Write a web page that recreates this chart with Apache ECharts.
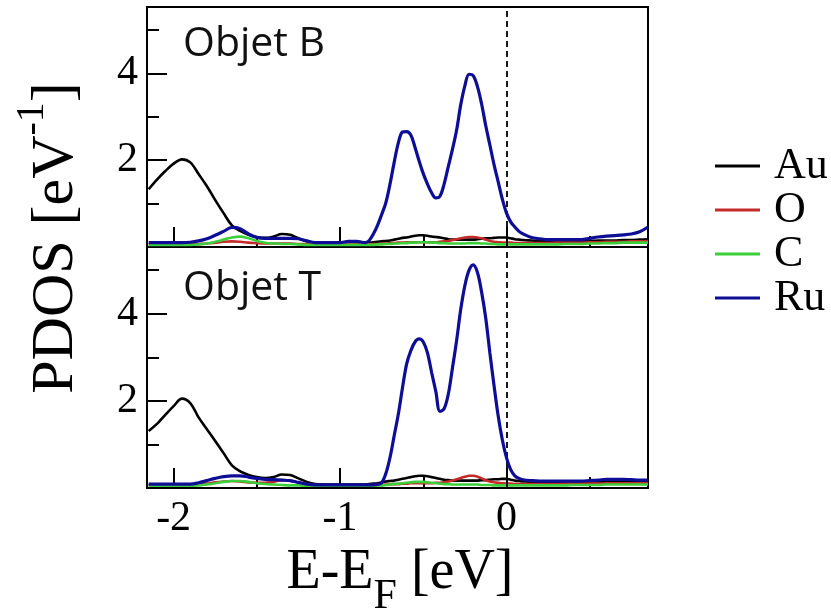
<!DOCTYPE html>
<html><head><meta charset="utf-8">
<script src="https://cdn.jsdelivr.net/npm/echarts@6/dist/echarts.min.js"></script>
<style>html,body{margin:0;padding:0;background:#fff}#c{width:831px;height:615px}</style>
</head><body><div id="c"></div>
<script>
// Energy grid (eV)
const E = [-2.15,-2.10,-2.05,-2.00,-1.95,-1.90,-1.85,-1.80,-1.75,-1.70,-1.65,-1.60,-1.55,-1.50,-1.45,-1.40,-1.35,-1.30,-1.25,-1.20,-1.15,-1.10,-1.05,-1.00,-0.95,-0.90,-0.85,
 -0.825,-0.80,-0.775,-0.75,-0.725,-0.70,-0.675,-0.65,-0.625,-0.60,-0.575,-0.55,-0.525,-0.50,-0.475,-0.45,-0.425,-0.40,-0.375,-0.35,-0.325,-0.30,-0.275,-0.25,-0.225,-0.20,-0.175,-0.15,-0.125,-0.10,-0.075,-0.05,-0.025,0.00,0.025,0.05,0.075,0.10,
 0.15,0.20,0.25,0.30,0.35,0.40,0.45,0.50,0.55,0.60,0.65,0.70,0.75,0.80,0.85];

// Objet B (upper panel)
const auB = [1.33,1.55,1.75,1.92,2.02,1.95,1.68,1.40,1.08,0.78,0.50,0.37,0.28,0.23,0.21,0.24,0.30,0.28,0.20,0.13,0.09,0.08,0.08,0.08,0.08,0.08,0.09,
 0.10,0.11,0.12,0.13,0.14,0.15,0.17,0.19,0.21,0.22,0.24,0.26,0.27,0.27,0.26,0.24,0.23,0.22,0.20,0.18,0.17,0.17,0.17,0.17,0.17,0.17,0.18,0.19,0.20,0.20,0.21,0.22,0.22,0.22,0.20,0.18,0.17,0.16,
 0.15,0.14,0.14,0.14,0.14,0.14,0.14,0.14,0.15,0.15,0.15,0.16,0.16,0.17,0.18];
const oB = [0.06,0.06,0.06,0.06,0.06,0.06,0.07,0.08,0.10,0.12,0.13,0.12,0.10,0.09,0.08,0.08,0.08,0.08,0.07,0.07,0.06,0.06,0.06,0.06,0.06,0.06,0.06,
 0.06,0.07,0.07,0.08,0.08,0.09,0.09,0.10,0.10,0.11,0.11,0.11,0.11,0.11,0.11,0.11,0.11,0.12,0.13,0.14,0.16,0.18,0.20,0.22,0.23,0.23,0.22,0.20,0.17,0.14,0.12,0.11,0.10,0.10,0.10,0.09,0.09,0.09,
 0.09,0.09,0.09,0.10,0.10,0.10,0.10,0.11,0.11,0.12,0.12,0.12,0.13,0.13,0.14];
const cB = [0.05,0.05,0.05,0.05,0.05,0.05,0.06,0.08,0.12,0.17,0.22,0.24,0.20,0.14,0.10,0.08,0.07,0.07,0.06,0.05,0.05,0.05,0.05,0.05,0.05,0.05,0.05,
 0.05,0.05,0.06,0.06,0.07,0.07,0.08,0.08,0.09,0.09,0.10,0.10,0.11,0.11,0.11,0.10,0.10,0.09,0.09,0.08,0.08,0.08,0.08,0.08,0.09,0.09,0.09,0.08,0.08,0.07,0.07,0.06,0.06,0.06,0.06,0.06,0.06,0.06,
 0.06,0.06,0.06,0.06,0.07,0.07,0.07,0.08,0.08,0.09,0.09,0.10,0.10,0.10,0.10];
const ruB = [0.10,0.10,0.10,0.10,0.10,0.11,0.14,0.19,0.27,0.36,0.45,0.42,0.30,0.22,0.20,0.20,0.20,0.20,0.19,0.14,0.10,0.10,0.10,0.10,0.13,0.13,0.10,
 0.15,0.30,0.50,0.75,1.02,1.45,1.95,2.40,2.65,2.66,2.58,2.30,1.98,1.69,1.45,1.25,1.13,1.17,1.45,1.85,2.25,2.69,3.28,3.72,3.98,3.95,3.70,3.30,2.80,2.35,1.90,1.50,1.10,0.78,0.58,0.46,0.36,0.30,
 0.22,0.19,0.17,0.17,0.17,0.17,0.17,0.20,0.23,0.25,0.26,0.28,0.30,0.35,0.46];

// Objet T (lower panel)
const auT = [1.31,1.47,1.68,1.88,2.05,1.95,1.62,1.35,1.08,0.80,0.52,0.38,0.30,0.25,0.23,0.25,0.31,0.30,0.22,0.14,0.09,0.08,0.08,0.08,0.08,0.08,0.08,
 0.09,0.10,0.11,0.13,0.15,0.16,0.17,0.19,0.21,0.23,0.25,0.27,0.28,0.28,0.27,0.25,0.23,0.21,0.19,0.18,0.17,0.17,0.17,0.17,0.17,0.17,0.17,0.18,0.18,0.19,0.20,0.20,0.21,0.21,0.19,0.17,0.16,0.15,
 0.14,0.14,0.14,0.14,0.14,0.14,0.14,0.14,0.14,0.14,0.15,0.15,0.15,0.15,0.15];
const oT = [0.07,0.07,0.07,0.07,0.07,0.07,0.08,0.10,0.13,0.15,0.16,0.15,0.13,0.12,0.12,0.14,0.18,0.17,0.12,0.08,0.06,0.06,0.06,0.06,0.06,0.06,0.06,
 0.06,0.06,0.07,0.07,0.08,0.08,0.09,0.09,0.10,0.10,0.11,0.11,0.11,0.11,0.11,0.11,0.12,0.12,0.13,0.15,0.17,0.20,0.23,0.26,0.28,0.28,0.26,0.22,0.18,0.15,0.13,0.12,0.11,0.10,0.10,0.09,0.09,0.09,
 0.09,0.09,0.09,0.09,0.10,0.10,0.10,0.10,0.10,0.11,0.11,0.11,0.11,0.11,0.11];
const cT = [0.05,0.05,0.05,0.05,0.05,0.05,0.06,0.08,0.11,0.14,0.16,0.16,0.14,0.11,0.09,0.08,0.07,0.06,0.06,0.05,0.05,0.05,0.05,0.05,0.05,0.05,0.05,
 0.05,0.05,0.06,0.06,0.07,0.08,0.09,0.10,0.11,0.12,0.13,0.14,0.14,0.14,0.13,0.12,0.11,0.10,0.09,0.09,0.08,0.08,0.08,0.08,0.08,0.08,0.08,0.07,0.07,0.07,0.06,0.06,0.06,0.06,0.06,0.06,0.06,0.06,
 0.06,0.06,0.06,0.06,0.06,0.07,0.07,0.07,0.07,0.08,0.08,0.08,0.08,0.08,0.08];
const ruT = [0.09,0.09,0.09,0.09,0.09,0.09,0.12,0.17,0.22,0.26,0.28,0.28,0.25,0.22,0.20,0.19,0.18,0.17,0.13,0.09,0.07,0.07,0.07,0.07,0.07,0.07,0.07,
 0.07,0.07,0.08,0.12,0.33,0.70,1.20,1.70,2.30,2.85,3.15,3.35,3.42,3.35,3.10,2.65,2.22,1.76,1.82,2.15,2.75,3.38,4.10,4.65,5.00,5.12,4.95,4.50,3.90,3.10,2.35,1.65,1.10,0.69,0.42,0.28,0.22,0.19,
 0.17,0.16,0.16,0.16,0.16,0.16,0.16,0.17,0.18,0.20,0.20,0.20,0.19,0.18,0.18];

const names = ['Au','O','C','Ru'];
const colors = ['#000000','#c42a2a','#3ccf3c','#0d0d96'];
const widths = [2.6,2.6,2.6,3.2];
const panels = [[auB,oB,cB,ruB],[auT,oT,cT,ruT]];
const panelTitles = ['Objet B','Objet T'];
const xMajor = [-2,-1,0], xMinor = [-1.5,-0.5,0.5];
const yMajor = [2,4], yMinor = [1,3,5];
const X_MIN = -2.16, X_MAX = 0.85, Y_MIN = 0, Y_MAX = 5.53;

const SERIF = '"Liberation Serif","Times New Roman",serif';
const gridBoxes = [{left:147, top:7, width:501, height:240},{left:147, top:247, width:501, height:241}];

const xAxes = [], yAxes = [], series = [];
gridBoxes.forEach((g, p) => {
  const tickStyle = {color:'#000', width:2};
  const hiddenLine = {show:false, onZero:false};
  xAxes.push({gridIndex:p, type:'value', min:X_MIN, max:X_MAX, position:'bottom',
    axisLine:hiddenLine, splitLine:{show:false},
    axisTick:{show:true, inside:true, length:20, customValues:xMajor, lineStyle:tickStyle},
    axisLabel:{show:p===1, customValues:xMajor, margin:10, color:'#000', fontFamily:SERIF, fontSize:42}});
  xAxes.push({gridIndex:p, type:'value', min:X_MIN, max:X_MAX, position:'bottom',
    axisLine:hiddenLine, splitLine:{show:false},
    axisTick:{show:true, inside:true, length:11, customValues:xMinor, lineStyle:tickStyle},
    axisLabel:{show:false}});
  yAxes.push({gridIndex:p, type:'value', min:Y_MIN, max:Y_MAX, position:'left',
    axisLine:hiddenLine, splitLine:{show:false},
    axisTick:{show:true, inside:true, length:20, customValues:yMajor, lineStyle:tickStyle},
    axisLabel:{show:true, customValues:yMajor, margin:9, color:'#000', fontFamily:SERIF, fontSize:42}});
  yAxes.push({gridIndex:p, type:'value', min:Y_MIN, max:Y_MAX, position:'left',
    axisLine:hiddenLine, splitLine:{show:false},
    axisTick:{show:true, inside:true, length:12, customValues:yMinor, lineStyle:tickStyle},
    axisLabel:{show:false}});
  panels[p].forEach((arr, k) => {
    const s = {type:'line', name:names[k], xAxisIndex:p*2, yAxisIndex:p*2,
      data:E.map((e,i)=>[e, arr[i]]), smooth:0.35, symbol:'none',
      lineStyle:{color:colors[k], width:widths[k]}, itemStyle:{color:colors[k]}, z:2+k, animation:false};
    if (k === 0) {
      s.markLine = {silent:true, symbol:'none', label:{show:false}, animation:false,
        lineStyle:{color:'#000', width:1.8, type:[6,4]}, data:[{xAxis:0}]};
    }
    series.push(s);
  });
});

// text measurement helper for composing sub/superscript titles
const ctx = document.createElement('canvas').getContext('2d');
function tw(t, size){ ctx.font = size + 'px ' + SERIF; return ctx.measureText(t).width; }

const graphics = [];
// panel titles
[[183,24],[183,268]].forEach((pos,p)=>{
  graphics.push({type:'text', x:pos[0], y:pos[1], z:10,
    style:{text:panelTitles[p], font:'41px "Open Sans"', fill:'#111', align:'left', verticalAlign:'top'}});
});
// x-axis title: E-E_F [eV]
(function(){
  const s1 = 56, s2 = 42;
  const a='E-E', b='F', c=' [eV]';
  const wa=tw(a,s1), wb=tw(b,s2), wc=tw(c,s1);
  const W = wa+wb+wc; const x0 = 400 - W/2; const ym = 573;
  graphics.push({type:'text', x:x0, y:ym, style:{text:a, font:s1+'px '+SERIF, fill:'#000', align:'left', verticalAlign:'middle'}});
  graphics.push({type:'text', x:x0+wa, y:ym+24, style:{text:b, font:s2+'px '+SERIF, fill:'#000', align:'left', verticalAlign:'middle'}});
  graphics.push({type:'text', x:x0+wa+wb, y:ym, style:{text:c, font:s1+'px '+SERIF, fill:'#000', align:'left', verticalAlign:'middle'}});
})();
// y-axis title: PDOS [eV^-1]
(function(){
  const s1 = 60, s2 = 40;
  const a='PDOS [eV', b='-1', c=']';
  const wa=tw(a,s1), wb=tw(b,s2), wc=tw(c,s1);
  const W = wa+wb+wc; const x0 = -W/2;
  graphics.push({type:'group', x:56, y:238, rotation:Math.PI/2, children:[
    {type:'text', x:x0, y:0, style:{text:a, font:s1+'px '+SERIF, fill:'#000', align:'left', verticalAlign:'middle'}},
    {type:'text', x:x0+wa, y:-24, style:{text:b, font:s2+'px '+SERIF, fill:'#000', align:'left', verticalAlign:'middle'}},
    {type:'text', x:x0+wa+wb, y:0, style:{text:c, font:s1+'px '+SERIF, fill:'#000', align:'left', verticalAlign:'middle'}}
  ]});
})();

const chart = echarts.init(document.getElementById('c'), null, {renderer:'canvas'});
chart.setOption({
  backgroundColor:'#ffffff',
  animation:false,
  grid: gridBoxes.map(g=>Object.assign({show:true, borderColor:'#000', borderWidth:2, backgroundColor:'transparent', containLabel:false, outerBoundsMode:'none'}, g)),
  xAxis: xAxes,
  yAxis: yAxes,
  legend:{data:names, orient:'vertical', left:710, top:139, icon:'rect', itemWidth:45, itemHeight:3, itemGap:0,
    textStyle:{fontFamily:SERIF, fontSize:44, color:'#000', lineHeight:41, padding:[0,0,0,9]}},
  series: series,
  graphic: graphics
});
</script></body></html>
